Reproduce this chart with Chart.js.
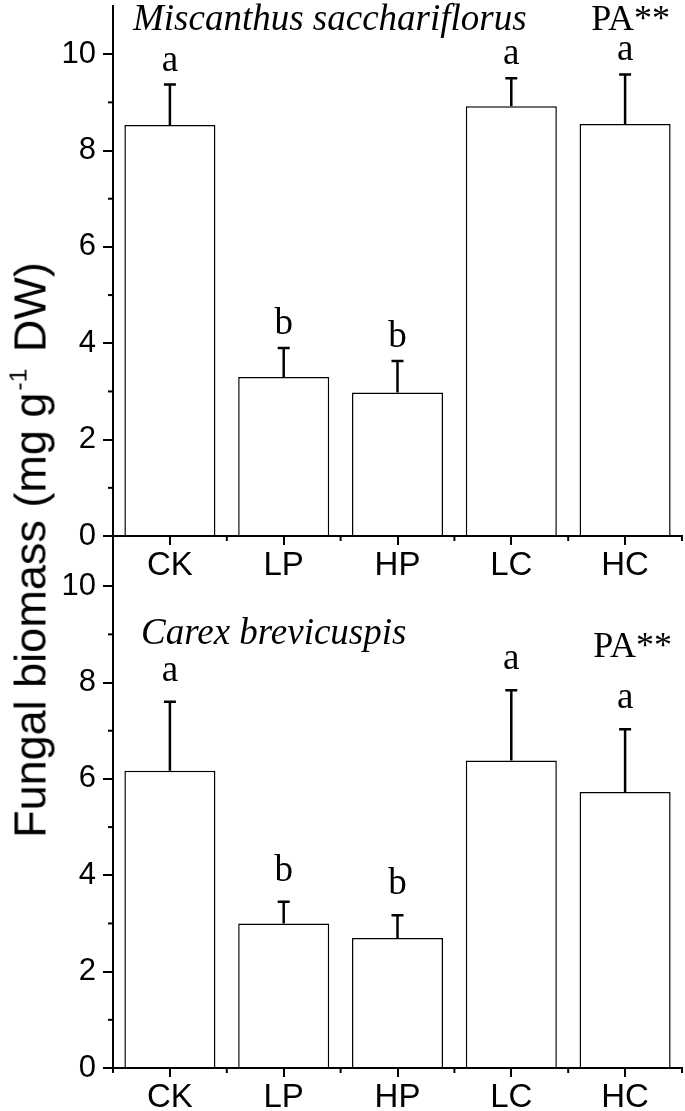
<!DOCTYPE html>
<html>
<head>
<meta charset="utf-8">
<script src="https://cdn.jsdelivr.net/npm/chart.js@4.4.1/dist/chart.umd.min.js"></script>
<style>
  html, body { margin: 0; padding: 0; background: #fff; }
  #wrap { position: relative; width: 685px; height: 1111px; overflow: hidden; background: #fff; }
  canvas { position: absolute; left: 0; }
  #c1 { top: 0; }
  #c2 { top: 532px; }
  #ytitle {
    position: absolute; left: 30px; top: 550px;
    transform: translate(-50%, -50%) rotate(-90deg);
    white-space: nowrap; line-height: 1;
    font-family: "Liberation Sans", Arial, sans-serif; font-size: 45px; color: #000;
  }
  #ytitle sup { font-size: 0.55em; vertical-align: 0; position: relative; top: -0.75em; margin-left: 2px; margin-right: 4px; }
</style>
</head>
<body>
<div id="wrap">
  <canvas id="c1" width="685" height="600" style="width:685px;height:600px"></canvas>
  <canvas id="c2" width="685" height="579" style="width:685px;height:579px"></canvas>
  <div id="ytitle">Fungal biomass (mg g<sup>-1</sup> DW)</div>
</div>
<script>
// ---- data ----
const categories = ['CK', 'LP', 'HP', 'LC', 'HC'];
const topMeans = [8.53, 3.30, 2.98, 8.92, 8.55];
const topSE = [0.84, 0.60, 0.65, 0.58, 1.03];
const topLetters = ['a', 'b', 'b', 'a', 'a'];
const bottomMeans = [6.17, 3.00, 2.70, 6.38, 5.73];
const bottomSE = [1.43, 0.45, 0.47, 1.46, 1.30];
const bottomLetters = ['a', 'b', 'b', 'a', 'a'];
const yMinorTicks = [1, 3, 5, 7, 9];
const topTitle = 'Miscanthus sacchariflorus';
const bottomTitle = 'Carex brevicuspis';
const sigLabel = 'PA**';

const SANS = '"Liberation Sans", Arial, sans-serif';
const SERIF = '"Liberation Serif", "Times New Roman", serif';

const decor = {
  id: 'decor',
  afterDraw(chart, args, o) {
    const ctx = chart.ctx, xs = chart.scales.x, ys = chart.scales.y;
    ctx.save();
    ctx.strokeStyle = '#000';
    ctx.fillStyle = '#000';
    // minor y ticks
    ctx.lineWidth = 2;
    yMinorTicks.forEach(v => {
      const py = ys.getPixelForValue(v);
      ctx.beginPath(); ctx.moveTo(xs.left - 5, py); ctx.lineTo(xs.left, py); ctx.stroke();
    });
    // minor x ticks at category boundaries
    const step = xs.getPixelForValue(1) - xs.getPixelForValue(0);
    for (let k = 0; k <= categories.length; k++) {
      const px = xs.getPixelForValue(0) - step / 2 + k * step;
      ctx.beginPath(); ctx.moveTo(px, ys.bottom); ctx.lineTo(px, ys.bottom + 5); ctx.stroke();
    }
    // error bars and letters
    const meta = chart.getDatasetMeta(0);
    ctx.lineWidth = 2.5;
    ctx.font = '37px ' + SERIF;
    ctx.textAlign = 'center';
    ctx.textBaseline = 'alphabetic';
    meta.data.forEach((bar, i) => {
      const top = ys.getPixelForValue(o.means[i] + o.se[i]);
      ctx.beginPath();
      ctx.moveTo(bar.x, bar.y); ctx.lineTo(bar.x, top);
      ctx.moveTo(bar.x - 6, top); ctx.lineTo(bar.x + 6, top);
      ctx.stroke();
      ctx.fillText(o.letters[i], bar.x, top - o.letterGap);
    });
    // panel title and significance label
    ctx.font = 'italic 37px ' + SERIF;
    ctx.textAlign = 'left';
    ctx.fillText(o.title, o.titleX, o.titleY);
    ctx.font = '36px ' + SERIF;
    ctx.textAlign = 'right';
    ctx.fillText(sigLabel, o.sigX, o.sigY);
    ctx.restore();
  }
};

function makeChart(id, means, se, letters, title, xAxisH, letterGap, titleX, titleY, sigX, sigY) {
  return new Chart(document.getElementById(id), {
    type: 'bar',
    data: {
      labels: categories,
      datasets: [{
        data: means,
        backgroundColor: '#fff',
        borderColor: '#000',
        borderWidth: 1.5,
        borderSkipped: 'bottom',
        barPercentage: 0.8,
        categoryPercentage: 1.0
      }]
    },
    options: {
      responsive: false,
      animation: false,
      events: [],
      layout: { padding: { top: 6, right: 3, left: 0, bottom: 0 } },
      plugins: {
        legend: { display: false },
        tooltip: { enabled: false },
        decor: { means, se, letters, title, letterGap, titleX, titleY, sigX, sigY }
      },
      scales: {
        x: {
          offset: true,
          grid: { display: true, drawOnChartArea: false, drawTicks: true, tickLength: 9, offset: false, color: '#000', lineWidth: 2 },
          border: { display: true, color: '#000', width: 2 },
          ticks: { color: '#000', font: { family: SANS, size: 33 }, padding: 1, maxRotation: 0, autoSkip: false },
          afterFit(s) { s.height = xAxisH; s.paddingLeft = 0; s.paddingRight = 0; }
        },
        y: {
          min: 0, max: 11,
          grid: { display: true, drawOnChartArea: false, drawTicks: true, tickLength: 10, color: '#000', lineWidth: 2 },
          border: { display: true, color: '#000', width: 2 },
          ticks: { stepSize: 2, includeBounds: false, color: '#000', font: { family: SANS, size: 31 }, padding: 7 },
          afterFit(s) { s.width = 113; s.paddingTop = 0; s.paddingBottom = 0; }
        }
      }
    },
    plugins: [decor]
  });
}

makeChart('c1', topMeans, topSE, topLetters, topTitle, 64, 14, 133, 30, 670, 30);
makeChart('c2', bottomMeans, bottomSE, bottomLetters, bottomTitle, 43, 21, 141, 112, 672, 125);
</script>
</body>
</html>
